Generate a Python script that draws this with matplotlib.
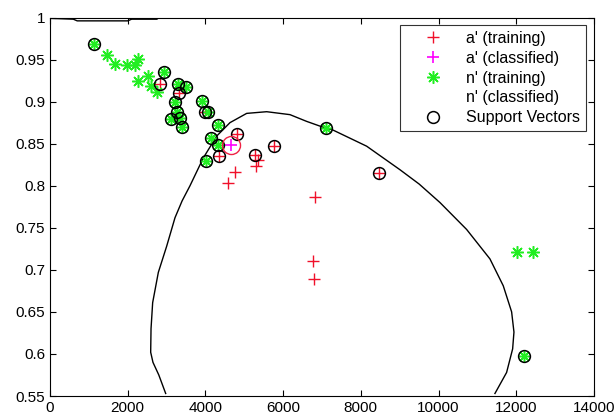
import numpy as np
import matplotlib
matplotlib.use("Agg")
import matplotlib.pyplot as plt
from matplotlib.ticker import FuncFormatter

plt.rcParams['font.family'] = ['Liberation Sans', 'DejaVu Sans']

# a' training points (red plus)
a_train_x = [2830, 3328, 3989, 4803, 4349, 5276, 5764, 8475, 5361, 5301, 4761, 4589, 6819, 6776, 6802]
a_train_y = [0.921, 0.910, 0.888, 0.862, 0.835, 0.837, 0.847, 0.815, 0.830, 0.824, 0.816, 0.803, 0.787, 0.711, 0.689]

# a' classified point (magenta plus)
a_class_x = [4649]
a_class_y = [0.848]

# n' training points (green asterisk)
n_train_x = [1140, 2925, 3285, 3491, 3217, 3260, 3114, 3346, 3389, 3900, 4074, 4314, 4143, 4331, 4006, 7094, 12197,
             1475, 1673, 1973, 2187, 2256, 2256, 2514, 2591, 2745, 12009, 12420]
n_train_y = [0.969, 0.935, 0.921, 0.917, 0.8995, 0.888, 0.879, 0.881, 0.870, 0.901, 0.888, 0.872, 0.857, 0.849, 0.829, 0.869, 0.597,
             0.955, 0.945, 0.943, 0.944, 0.951, 0.924, 0.931, 0.918, 0.911, 0.721, 0.721]

# support vectors (black circles)
sv_x = [1140, 2925, 3285, 3491, 3217, 3260, 3114, 3346, 3389, 3900, 4074, 4314, 4143, 4331, 4006, 7094, 12197,
        2830, 3328, 3989, 4803, 4349, 5276, 5764, 8475]
sv_y = [0.969, 0.935, 0.921, 0.917, 0.8995, 0.888, 0.879, 0.881, 0.870, 0.901, 0.888, 0.872, 0.857, 0.849, 0.829, 0.869, 0.597,
        0.921, 0.910, 0.888, 0.862, 0.835, 0.837, 0.847, 0.815]

# decision boundary (main loop)
boundary_x = [2977, 2800, 2650, 2591, 2600, 2642, 2788, 3002, 3217, 3400, 3603, 3945, 4289, 4632, 5061, 5576, 6176,
              6604, 7000, 7291, 8149, 9007, 9500, 10036, 10722, 11322, 11665, 11880, 11940, 11906, 11751, 11451]
boundary_y = [0.553, 0.575, 0.590, 0.602, 0.630, 0.661, 0.697, 0.728, 0.762, 0.782, 0.800, 0.833, 0.859, 0.875, 0.886,
              0.888, 0.8845, 0.8765, 0.870, 0.866, 0.847, 0.819, 0.802, 0.780, 0.748, 0.713, 0.681, 0.650, 0.626, 0.606,
              0.578, 0.553]

# decision boundary (piece near the top)
top_x = [0, 600, 700, 2000, 2100, 2750, 2900]
top_y = [0.999, 0.998, 0.996, 0.996, 0.998, 0.998, 1.003]

red = '#f0102a'
green = '#22ee22'
asterisk = (8, 2, 0)

fig = plt.figure(figsize=(6.16, 4.15), dpi=100)
ax = fig.add_axes([50 / 616, 1 - 396 / 415, 544 / 616, (396 - 17.5) / 415])

ax.plot(boundary_x, boundary_y, color='black', lw=1.0)
ax.plot(top_x, top_y, color='black', lw=1.0)

ax.plot(a_train_x, a_train_y, linestyle='none', marker='+', color=red, markersize=8, mew=1.0, label="a' (training)")
ax.plot(a_class_x, a_class_y, linestyle='none', marker='+', color='#ff00ff', markersize=9, mew=1.2, label="a' (classified)")
ax.plot(n_train_x, n_train_y, linestyle='none', marker=asterisk, color=green, markersize=9, mew=1.1, label="n' (training)")
ax.plot([], [], linestyle='none', label="n' (classified)")
ax.plot(sv_x, sv_y, linestyle='none', marker='o', mfc='none', mec='black', markersize=8.5, mew=1.1, label='Support Vectors')
# large red circle around classified point
ax.plot(a_class_x, a_class_y, linestyle='none', marker='o', mfc='none', mec='#ee2244', markersize=13, mew=1.0)

ax.set_xlim(0, 14000)
ax.set_ylim(0.55, 1.0)
ax.set_xticks(np.arange(0, 14001, 2000))
ax.set_yticks(np.arange(0.55, 1.001, 0.05))
ax.yaxis.set_major_formatter(FuncFormatter(lambda v, p: '%g' % round(v, 2)))
ax.tick_params(direction='in', top=True, right=True, labelsize=11, length=4)

leg = ax.legend(loc='upper right', fontsize=11.5, frameon=True, fancybox=False, edgecolor='black',
                borderaxespad=0.5, handlelength=3.4, labelspacing=0.3, handletextpad=0.4, borderpad=0.35)
leg.get_frame().set_linewidth(0.8)

fig.savefig('out.png', dpi=100)
